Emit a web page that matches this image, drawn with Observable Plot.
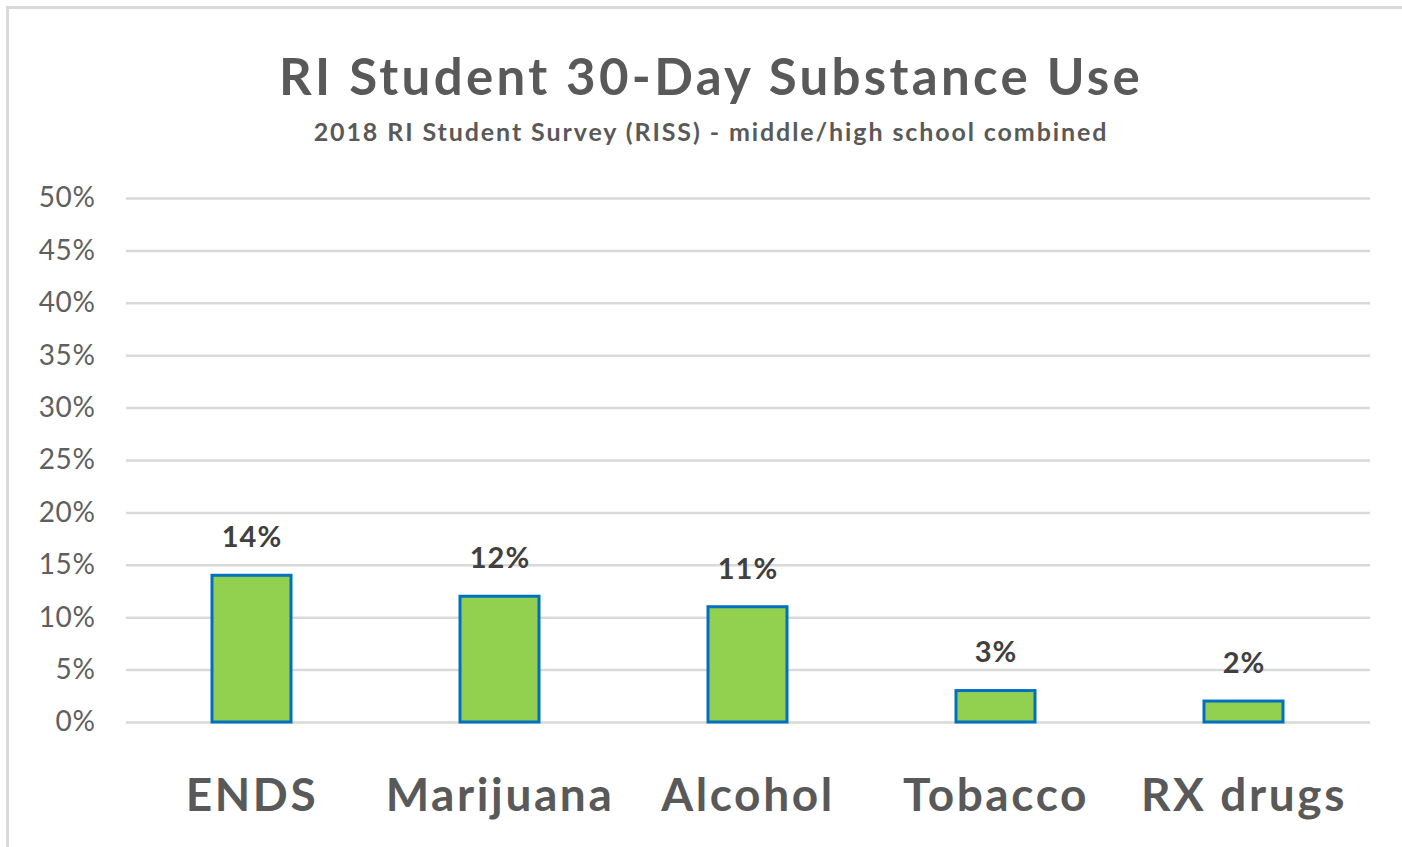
<!DOCTYPE html>
<html>
<head>
<meta charset="utf-8">
<script src="https://cdn.jsdelivr.net/npm/d3@7"></script>
<script src="https://cdn.jsdelivr.net/npm/@observablehq/plot@0.6"></script>
<style>
  html, body { margin: 0; padding: 0; background: #fff; }
  body { width: 1402px; height: 847px; position: relative; overflow: hidden; font-family: Lato, "Open Sans", sans-serif; }
  #frame { position: absolute; left: 6px; top: 6px; width: 1400px; height: 850px; border: 3px solid #d9d9d9; box-sizing: border-box; }
  #title { position: absolute; left: 0; width: 1422px; top: 46px; text-align: center; font-size: 51px; font-weight: bold; color: #595959; line-height: 60px; letter-spacing: 3.3px; }
  #subtitle { position: absolute; left: 0; width: 1422px; top: 116px; text-align: center; font-size: 25px; font-weight: bold; color: #595959; line-height: 30px; letter-spacing: 1.9px; }
  #chart { position: absolute; left: 0; top: 160px; }
  #chart svg g[aria-label="y-axis tick label"] text { letter-spacing: 0.6px; }
  #chart svg g[aria-label="x-axis tick label"] text { letter-spacing: 2.6px; }
  #chart svg g[aria-label="text"] text { letter-spacing: 1px; }
</style>
</head>
<body>
<div id="frame"></div>
<div id="title">RI Student 30-Day Substance Use</div>
<div id="subtitle">2018 RI Student Survey (RISS) - middle/high school combined</div>
<div id="chart"></div>
<script>
const categories = ["ENDS", "Marijuana", "Alcohol", "Tobacco", "RX drugs"];
const values = [14, 12, 11, 3, 2];
const yTicks = [0, 5, 10, 15, 20, 25, 30, 35, 40, 45, 50];

const data = categories.map((c, i) => ({category: c, value: values[i]}));

const chart = Plot.plot({
  width: 1402,
  height: 687,
  marginTop: 38,
  marginBottom: 125,
  marginLeft: 126,
  marginRight: 32,
  style: {fontFamily: "Lato, 'Open Sans', sans-serif", color: "#595959", background: "transparent"},
  x: {domain: categories, paddingInner: 0.68, paddingOuter: 0.34, label: null},
  y: {domain: [0, 50], ticks: yTicks, label: null},
  marks: [
    Plot.gridY(yTicks, {stroke: "#d9d9d9", strokeWidth: 2.5, strokeOpacity: 1}),
    Plot.axisY(yTicks, {tickSize: 0, tickPadding: 31, tickFormat: d => d + "%", fontSize: 28, fill: "#5f5f5f", label: null}),
    Plot.barY(data, {x: "category", y: "value", fill: "#92d050", stroke: "#0070c0", strokeWidth: 3}),
    Plot.text(data, {x: "category", y: "value", text: d => d.value + "%", dy: -38, fontSize: 29, fontWeight: "bold", fill: "#404040"}),
    Plot.axisX({tickSize: 0, tickPadding: 56, fontSize: 46, fontWeight: "bold", fill: "#595959", label: null})
  ]
});
document.getElementById("chart").appendChild(chart);
</script>
</body>
</html>
